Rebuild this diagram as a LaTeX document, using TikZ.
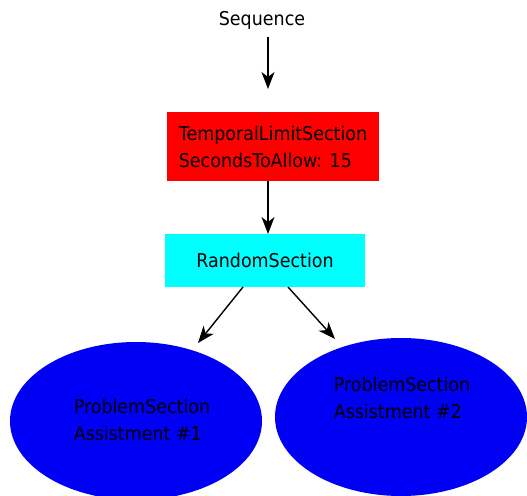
\documentclass[tikz,border=0pt]{standalone}
\usepackage{fontspec}
\setmainfont{DejaVu Sans}[FakeStretch=0.92]
\usetikzlibrary{shapes.geometric,arrows.meta}
\definecolor{boxcyan}{RGB}{0,255,255}
\definecolor{boxred}{RGB}{255,0,0}
\definecolor{ellblue}{RGB}{0,0,245}
\begin{document}
\begin{tikzpicture}[x=1pt,y=-1pt,
  every node/.style={font=\fontsize{19}{27}\selectfont, text=black},
  boxnode/.style={rectangle, inner sep=0pt, align=left},
  ell/.style={ellipse, fill=ellblue, draw=none, inner sep=0pt},
  conn/.style={draw=black, line width=1.4pt, -{Stealth[length=17pt,width=13pt,inset=5pt]}}]
\useasboundingbox (0,0) rectangle (527,495);
\clip (0,0) rectangle (527,495);
\node (seq) at (262,20) {Sequence};
\node[boxnode, fill=boxred, minimum width=212pt, minimum height=69pt] (tls) at (273,146.5)
  {TemporalLimitSection\\SecondsToAllow: 15};
\node[boxnode, fill=boxcyan, minimum width=200pt, minimum height=53pt] (rs) at (265,260.5) {RandomSection};
\node[ell, minimum width=252pt, minimum height=158pt] (e1) at (136,421) {};
\node[ell, minimum width=252pt, minimum height=158pt] (e2) at (401,417) {};
\node[boxnode] (t1) at (142,420) {ProblemSection\\Assistment \#1};
\node[boxnode] (t2) at (402,398) {ProblemSection\\Assistment \#2};
\coordinate (a1) at (268,89);
\coordinate (a2) at (268,234);
\coordinate (b1) at (243,287);
\coordinate (b2) at (198,343);
\coordinate (c1) at (288,287);
\coordinate (c2) at (335,339);
\draw[conn] (seq.south -| a1) ++(0,4) -- (a1);
\draw[conn] (tls.south -| a2) -- (a2);
\draw[conn] (b1) -- (b2);
\draw[conn] (c1) -- (c2);
\end{tikzpicture}
\end{document}
